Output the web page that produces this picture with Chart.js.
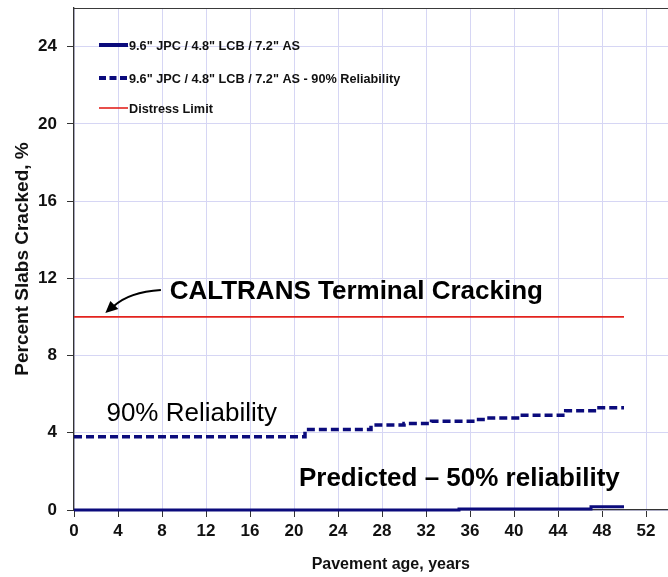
<!DOCTYPE html>
<html><head><meta charset="utf-8">
<script src="https://cdn.jsdelivr.net/npm/chart.js@4.4.1/dist/chart.umd.min.js"></script>
<style>html,body{margin:0;padding:0;background:#fff;overflow:hidden}#wrap{width:668px;height:577px}</style>
</head><body><div id="wrap"><canvas id="c" width="668" height="577"></canvas></div>
<script>
// ---- data ----
const seriesNames = ['9.6" JPC / 4.8" LCB / 7.2" AS', '9.6" JPC / 4.8" LCB / 7.2" AS - 90% Reliability', 'Distress Limit'];
const predictedYears = [0, 35, 47, 50];
const predictedValues = [0, 0.05, 0.17, 0.17];
const reliability90Years = [0, 21, 27, 30, 32.5, 36.5, 37.5, 40.5, 44.7, 47.5, 50];
const reliability90Values = [3.8, 4.17, 4.4, 4.48, 4.6, 4.69, 4.77, 4.91, 5.14, 5.29, 5.29];
const limitYears = [0, 50];
const limitValues = [10, 10];
const xTickValues = [0, 4, 8, 12, 16, 20, 24, 28, 32, 36, 40, 44, 48, 52];
const yTickValues = [0, 4, 8, 12, 16, 20, 24];
const xTitle = 'Pavement age, years';
const yTitle = 'Percent Slabs Cracked, %';
const noteLimit = 'CALTRANS Terminal Cracking';
const note90 = '90% Reliability';
const note50 = 'Predicted \u2013 50% reliability';

const toPoints = (xs, ys) => xs.map((x, i) => ({x: x, y: ys[i]}));
const NAVY = '#0b0b7c';
const NARROW = "'Liberation Sans Narrow','Arial Narrow','Liberation Sans',Arial,sans-serif";
const SANS = "'Liberation Sans',Arial,sans-serif";

const framePlugin = {
  id: 'frame',
  beforeDatasetsDraw(chart) {
    const {ctx, chartArea: a} = chart;
    ctx.save();
    ctx.strokeStyle = '#3a3a3a';
    ctx.lineWidth = 1.2;
    ctx.beginPath();
    ctx.moveTo(a.left, a.top + 0.5);
    ctx.lineTo(a.right, a.top + 0.5);
    ctx.stroke();
    ctx.restore();
  }
};

const legendPlugin = {
  id: 'insideLegend',
  afterDraw(chart) {
    const {ctx, chartArea: a} = chart;
    const rows = [37, 70, 100];
    ctx.save();
    chart.data.datasets.forEach((ds, i) => {
      const y = a.top + rows[i];
      const x0 = a.left + 25, x1 = a.left + 54;
      ctx.strokeStyle = ds.borderColor;
      ctx.lineWidth = i === 2 ? 1.6 : 4;
      ctx.setLineDash(i === 1 ? [7, 3.5] : []);
      ctx.beginPath(); ctx.moveTo(x0, y); ctx.lineTo(x1, y); ctx.stroke();
      ctx.setLineDash([]);
      ctx.fillStyle = '#111';
      ctx.font = 'bold 12.7px ' + SANS;
      ctx.textBaseline = 'middle';
      ctx.textAlign = 'left';
      ctx.fillText(ds.label, x1 + 1, y + 1);
    });
    ctx.restore();
  }
};

const notePlugin = {
  id: 'notes',
  afterDraw(chart) {
    const {ctx} = chart;
    const xs = chart.scales.x, ys = chart.scales.y;
    const px = v => xs.getPixelForValue(v), py = v => ys.getPixelForValue(v);
    ctx.save();
    // x-axis title (centred as in the original, uncropped chart)
    ctx.fillStyle = '#111';
    ctx.textAlign = 'center';
    ctx.textBaseline = 'middle';
    ctx.font = 'bold 16px ' + NARROW;
    ctx.fillText(xTitle, px(28.8), xs.bottom - 12);
    ctx.fillStyle = '#000';
    ctx.textAlign = 'left';
    ctx.font = 'bold 26px ' + SANS;
    ctx.fillText(noteLimit, px(8.7), py(11.3));
    ctx.fillText(note50, px(20.45), py(1.6));
    ctx.font = '26px ' + SANS;
    ctx.fillText(note90, px(2.95), py(5.0));
    // arrow
    ctx.strokeStyle = '#000';
    ctx.lineWidth = 2;
    ctx.beginPath();
    ctx.moveTo(px(7.9), py(11.4));
    ctx.quadraticCurveTo(px(5.0), py(11.3), px(3.6), py(10.55));
    ctx.stroke();
    const tx = px(2.85), ty = py(10.2);
    ctx.beginPath();
    ctx.moveTo(tx, ty);
    ctx.lineTo(tx + 13, ty - 4);
    ctx.lineTo(tx + 5, ty - 12);
    ctx.closePath();
    ctx.fill();
    ctx.restore();
  }
};

new Chart(document.getElementById('c'), {
  type: 'line',
  data: {
    datasets: [
      {label: seriesNames[0], data: toPoints(predictedYears, predictedValues), borderColor: NAVY, borderWidth: 3, stepped: true, pointRadius: 0, fill: false, clip: false},
      {label: seriesNames[1], data: toPoints(reliability90Years, reliability90Values), borderColor: NAVY, borderWidth: 3.5, borderDash: [8, 4], stepped: true, pointRadius: 0, fill: false},
      {label: seriesNames[2], data: toPoints(limitYears, limitValues), borderColor: '#e3231e', borderWidth: 1.8, pointRadius: 0, fill: false}
    ]
  },
  options: {
    responsive: false,
    animation: false,
    devicePixelRatio: 1,
    layout: {padding: {top: 8, right: 0, left: 0, bottom: 0}},
    plugins: {legend: {display: false}, tooltip: {enabled: false}},
    scales: {
      x: {
        type: 'linear', min: 0, max: 54,
        afterBuildTicks: s => { s.ticks = xTickValues.map(v => ({value: v})); },
        afterFit: s => { s.height = 67; s.paddingRight = 0; },
        grid: {color: '#d6d6f4', lineWidth: 1, tickColor: '#333', tickLength: 7, drawOnChartArea: true},
        border: {color: '#333', width: 1.3},
        ticks: {color: '#111', padding: 4, maxRotation: 0, autoSkip: false, font: {family: NARROW, size: 17, weight: 'bold'}},
        title: {display: false, text: xTitle}
      },
      y: {
        type: 'linear', min: 0, max: 26,
        afterBuildTicks: s => { s.ticks = yTickValues.map(v => ({value: v})); },
        afterFit: s => { s.width = 74; s.paddingTop = 0; s.paddingBottom = 0; },
        grid: {color: '#d6d6f4', lineWidth: 1, tickColor: '#333', tickLength: 7, drawOnChartArea: true},
        border: {color: '#333', width: 1.3},
        ticks: {color: '#111', padding: 10, font: {family: NARROW, size: 17, weight: 'bold'}},
        title: {display: true, text: yTitle, color: '#111', padding: {top: 11, bottom: 0}, font: {family: NARROW, size: 19, weight: 'bold'}}
      }
    }
  },
  plugins: [framePlugin, legendPlugin, notePlugin]
});
</script></body></html>
